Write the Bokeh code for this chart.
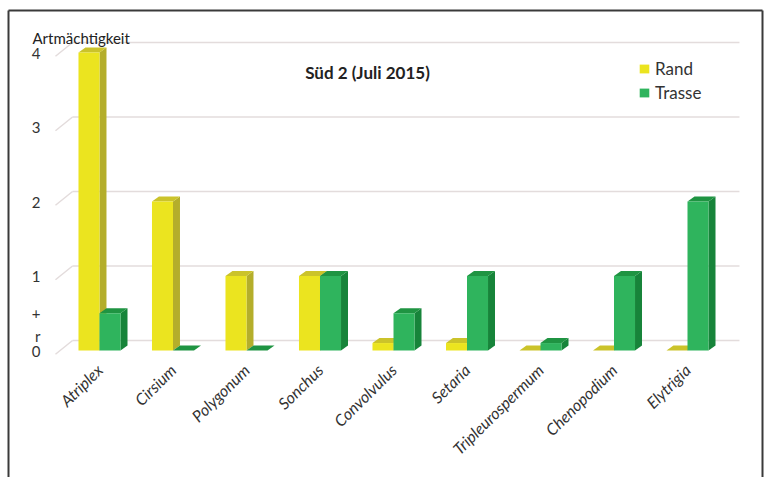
from bokeh.plotting import figure
from bokeh.models import Range1d, FixedTicker, Label, Legend, LegendItem, ColumnDataSource
from bokeh.embed import file_html
from bokeh.resources import INLINE

# ---------------- data ----------------
species = ["Atriplex", "Cirsium", "Polygonum", "Sonchus", "Convolvulus",
           "Setaria", "Tripleurospermum", "Chenopodium", "Elytrigia"]
rand = [4, 2, 1, 1, 0.1, 0.1, 0, 0, 0]
trasse = [0.5, 0, 0, 1, 0.5, 1, 0.1, 1, 2]
series_names = ["Rand", "Trasse"]
tick_values = [0, 0.2, 0.5, 1, 2, 3, 4]
tick_labels = ["0", "r", "+", "1", "2", "3", "4"]
grid_values = [0, 1, 2, 3, 4]
chart_title = "Süd 2 (Juli 2015)"
y_title = "Artmächtigkeit"

# ---------------- style ----------------
FONT = "Lato"
TXT = "#333333"
BAR_W = 0.286          # bar width in category units
DX, DY = 0.095, 0.067  # 3D depth of bars (data units)
GRID_DY = 0.134        # back-wall offset of gridlines
GRID_X_FRONT, GRID_X_BACK, GRID_X_END = -0.599, -0.367, 8.707
COLORS = {
    "Rand": ("#ebe41f", "#b4ae2b", "#cbc32a"),     # front, side, top
    "Trasse": ("#2fb45d", "#17843a", "#1f9442"),
}
BOX_L, BOX_R, BOX_T, BOX_B = -1.238, 9.0204, 4.564, -1.9

p = figure(width=765, height=477, output_backend="svg", toolbar_location=None,
           x_range=Range1d(-1.3469, 9.0612), y_range=Range1d(-1.7047, 4.698),
           min_border=0, min_border_left=0, min_border_right=0, min_border_top=0,
           min_border_bottom=0, background_fill_color="white", border_fill_color="white")
p.outline_line_color = None
p.xgrid.visible = False
p.ygrid.visible = False

# outer frame lines (left, top, right)
p.segment(x0=[BOX_L, BOX_L, BOX_R], y0=[BOX_B, BOX_T, BOX_T],
          x1=[BOX_L, BOX_R, BOX_R], y1=[BOX_T, BOX_T, BOX_B],
          line_color="#3a3a3a", line_width=2)

# gridlines on the back wall plus floor diagonals
gx0, gx1, gy0, gy1 = [], [], [], []
for v in grid_values:
    gx0.append(GRID_X_BACK); gx1.append(GRID_X_END)
    gy0.append(v + GRID_DY); gy1.append(v + GRID_DY)
    gx0.append(GRID_X_FRONT); gx1.append(GRID_X_BACK)
    gy0.append(v - 0.05); gy1.append(v + GRID_DY)
p.segment(x0=gx0, y0=gy0, x1=gx1, y1=gy1, line_color="#e3dcdc", line_width=1.5)

# 3D bars
front_renderers = {}
for k, (name, vals) in enumerate(zip(series_names, [rand, trasse])):
    fc, sc, tc = COLORS[name]
    lefts = [i - BAR_W + k * BAR_W for i in range(len(species))]
    rights = [l + BAR_W for l in lefts]
    side_xs = [[r, r + DX, r + DX, r] for r in rights]
    side_ys = [[0, DY, v + DY, v] for v in vals]
    top_xs = [[l, l + DX, r + DX, r] for l, r in zip(lefts, rights)]
    top_ys = [[v, v + DY, v + DY, v] for v in vals]
    p.patches(xs=side_xs, ys=side_ys, fill_color=sc, line_color=None)
    p.patches(xs=top_xs, ys=top_ys, fill_color=tc, line_color=None)
    src = ColumnDataSource(dict(left=lefts, right=rights, bottom=[0] * len(vals), top=vals))
    front_renderers[name] = p.quad(left="left", right="right", bottom="bottom", top="top",
                                   source=src, fill_color=fc, line_color=None)

# axes (drawn inside the frame at fixed locations)
p.yaxis.ticker = FixedTicker(ticks=tick_values)
p.yaxis.major_label_overrides = {v: s for v, s in zip(tick_values, tick_labels)}
p.yaxis.fixed_location = -0.7211
p.xaxis.ticker = FixedTicker(ticks=list(range(len(species))))
p.xaxis.major_label_overrides = {i: s for i, s in enumerate(species)}
p.xaxis.fixed_location = -0.1
for ax in (p.xaxis[0], p.yaxis[0]):
    ax.axis_line_color = None
    ax.major_tick_line_color = None
    ax.minor_tick_line_color = None
    ax.major_tick_out = 0
    ax.major_tick_in = 0
    ax.major_label_text_font = FONT
    ax.major_label_text_color = TXT
p.yaxis.major_label_standoff = 6
p.yaxis.major_label_text_font_size = "15px"
p.xaxis.major_label_standoff = 9
p.xaxis.major_label_text_font_size = "16px"
p.xaxis.major_label_text_font_style = "italic"
p.xaxis.major_label_orientation = 0.78

# texts
p.add_layout(Label(x=3.646, y=3.73, text=chart_title, text_font=FONT, text_font_size="17px",
                   text_font_style="bold", text_color="#222222", text_align="center",
                   text_baseline="middle"))
p.add_layout(Label(x=-0.9116, y=4.188, text=y_title, text_font=FONT, text_font_size="15px",
                   text_color="#222222", text_align="left", text_baseline="middle"))

# legend
legend = Legend(items=[LegendItem(label=n, renderers=[front_renderers[n]]) for n in series_names],
                location=(638, 374), glyph_width=12, glyph_height=11, label_height=22,
                label_standoff=5, spacing=2, padding=0, margin=0,
                border_line_color=None, background_fill_alpha=0,
                label_text_font=FONT, label_text_font_size="17px", label_text_color=TXT)
p.add_layout(legend)

open("out.html", "w").write(file_html(p, INLINE))
